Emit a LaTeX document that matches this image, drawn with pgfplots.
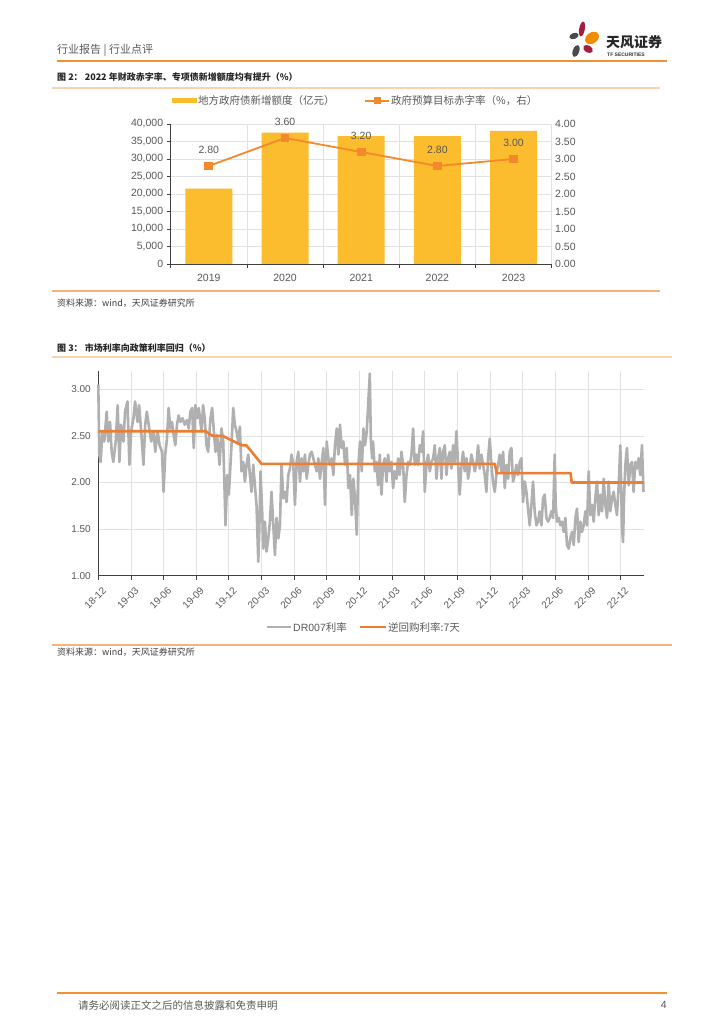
\documentclass[border=0pt]{standalone}
\usepackage{pgfplots}
\pgfplotsset{compat=1.18}
\usepackage{fontspec}
\setmainfont{Liberation Sans}
\newfontfamily\cjk{Noto Sans CJK SC}

\definecolor{tickgray}{HTML}{595959}
\definecolor{barY}{HTML}{FBBC2D}
\definecolor{lineO}{HTML}{F28A2B}
\definecolor{repoO}{HTML}{ED7D31}
\definecolor{drGray}{HTML}{B0B0B0}
\definecolor{gridG}{HTML}{E2E2E2}
\definecolor{axisD}{HTML}{404040}
\definecolor{hdrO}{HTML}{F0922E}
\definecolor{peach}{HTML}{F9D2AE}
\definecolor{sepO}{HTML}{F5B27A}
\definecolor{logoRed}{HTML}{A21E3C}
\definecolor{logoOr}{HTML}{F08C00}
\definecolor{logoGray}{HTML}{4A4A4A}

\newcommand\fs[1]{\fontsize{#1}{#1}\selectfont}

\begin{document}
\begin{tikzpicture}[x=1pt,y=1pt]
\useasboundingbox (0,0) rectangle (724,1024);
\fill[white] (0,0) rectangle (724,1024);
\coordinate (A1) at (170.7,760);
\coordinate (A3) at (98.3,448.3);

% header
\node[anchor=west, inner sep=0, text=tickgray] at (57,974) {\cjk\fs{11}行业报告 | 行业点评};
\draw[hdrO, line width=2pt] (57,963) -- (667,963);
% logo
\fill[logoRed, rotate around={-10:(582,995)}] (582,995) ellipse [x radius=2.8pt, y radius=7.5pt];
\fill[logoOr, rotate around={35:(592,986)}] (592,986) ellipse [x radius=7.5pt, y radius=5.5pt];
\fill[logoGray, rotate around={20:(574,988)}] (574,988) ellipse [x radius=4.8pt, y radius=3pt];
\fill[logoGray, rotate around={-20:(576,973)}] (576,973) ellipse [x radius=3.2pt, y radius=6.3pt];
\fill[logoRed, rotate around={-30:(588,975)}] (588,975) ellipse [x radius=5.2pt, y radius=3.6pt];
\node[anchor=west, inner sep=0, text=black!85] at (606,982) {\cjk\bfseries\fs{14}天风证券};
\node[anchor=west, inner sep=0, text=black!80] at (607,969) {\fs{5}\bfseries TF SECURITIES};

% figure 2 title
\node[anchor=west, inner sep=0, text=black!85] at (57,947) {\cjk\bfseries\fs{9}图 2： 2022 年财政赤字率、专项债新增额度均有提升（\%）};
\draw[peach, line width=1.5pt] (52,936) -- (660,936);

% legend 1
\fill[barY] (171.7,921) rectangle (196.7,925.5);
\node[anchor=west, inner sep=1pt, text=tickgray] at (197,923) {\cjk\fs{10.5}地方政府债新增额度（亿元）};
\draw[lineO, line width=1.8pt] (365,923) -- (389,923);
\fill[lineO] (373.5,919.5) rectangle (380.5,926.5);
\node[anchor=west, inner sep=1pt, text=tickgray] at (390,923) {\cjk\fs{10.5}政府预算目标赤字率（\%，右）};

\begin{axis}[
  at={(A1)}, anchor=south west,
  scale only axis, width=381pt, height=140pt,
  xmin=-0.5, xmax=4.5, ymin=0, ymax=40000,
  axis x line*=bottom, axis y line*=left,
  axis line style={axisD, line width=0.8pt},
  xtick={-0.5,0.5,1.5,2.5,3.5,4.5}, xticklabels={},
  extra x ticks={0,1,2,3,4},
  extra x tick labels={2019,2020,2021,2022,2023},
  extra x tick style={major tick length=0pt, grid=none, xticklabel style={yshift=-7pt}},
  xmajorgrids=true, ymajorgrids=true,
  major grid style={gridG, line width=0.8pt},
  ytick={0,5000,10000,15000,20000,25000,30000,35000,40000},
  scaled y ticks=false,
  yticklabel style={/pgf/number format/.cd, fixed, 1000 sep={,}},
  tick align=outside, major tick length=4pt,
  tick style={axisD, line width=0.8pt},
  tick label style={font=\fs{10.5}, text=tickgray, /pgf/number format/assume math mode=true},
  clip=false,
]
\addplot[ybar, bar width=47pt, fill=barY, draw=none] coordinates {(0,21500) (1,37500) (2,36500) (3,36500) (4,38000)};
\end{axis}

\begin{axis}[
  at={(A1)}, anchor=south west,
  scale only axis, width=381pt, height=140pt,
  xmin=-0.5, xmax=4.5, ymin=0, ymax=4,
  axis x line=none, axis y line*=right,
  y axis line style={draw=none},
  ytick={0,0.5,1,1.5,2,2.5,3,3.5,4},
  yticklabel style={/pgf/number format/.cd, fixed, fixed zerofill, precision=2},
  major tick length=0pt,
  tick label style={font=\fs{10.5}, text=tickgray, /pgf/number format/assume math mode=true},
  clip=false,
]
\addplot[lineO, line width=1.8pt, mark=square*, mark size=3.5pt, mark options={fill=lineO, draw=lineO},
  point meta=y,
  nodes near coords={\pgfmathprintnumber[fixed,fixed zerofill,precision=2,assume math mode=true]{\pgfplotspointmeta}},
  every node near coord/.append style={font=\fs{10.5}, text=tickgray, anchor=center, yshift=16pt}]
  coordinates {(0,2.8) (1,3.6) (2,3.2) (3,2.8) (4,3.0)};
\end{axis}

\draw[sepO, line width=1.2pt] (52,733) -- (660,733);
\node[anchor=west, inner sep=0, text=black!75] at (57,721) {\cjk\fs{9}资料来源：wind，天风证券研究所};

% figure 3 title
\node[anchor=west, inner sep=0, text=black!85] at (57,676) {\cjk\bfseries\fs{9}图 3： 市场利率向政策利率回归（\%）};
\draw[peach, line width=1.5pt] (52,667) -- (672,667);

\begin{axis}[
  at={(A3)}, anchor=south west,
  scale only axis, width=545.2pt, height=205pt,
  xmin=0, xmax=50.1, ymin=1, ymax=3.2,
  axis x line*=bottom, axis y line*=left,
  axis line style={axisD, line width=0.9pt},
  xtick={0,3,...,48},
  xticklabels={18-12,19-03,19-06,19-09,19-12,20-03,20-06,20-09,20-12,21-03,21-06,21-09,21-12,22-03,22-06,22-09,22-12},
  ytick={1,1.5,2,2.5,3},
  yticklabel style={/pgf/number format/.cd, fixed, fixed zerofill, precision=2},
  grid=major, major grid style={gridG, line width=0.8pt},
  tick align=outside, major tick length=4pt,
  x tick style={axisD, line width=0.8pt},
  y tick style={draw=none},
  tick label style={font=\fs{10}, text=tickgray, /pgf/number format/assume math mode=true},
  x tick label style={rotate=45, anchor=east, yshift=-11pt, xshift=1pt},
  clip=false,
]
\addplot[drGray, line width=2.6pt, line join=round] coordinates {
(0.00,3.05)(0.09,2.30)(0.22,2.22)(0.37,2.55)(0.55,2.44)(0.77,2.76)(0.92,2.44)(1.08,2.65)(1.23,2.33)(1.38,2.22)
(1.60,2.44)(1.78,2.83)(1.94,2.22)(2.09,2.62)(2.31,2.44)(2.46,2.76)(2.68,2.87)(2.86,2.19)(3.02,2.55)(3.23,2.69)
(3.38,2.87)(3.60,2.65)(3.75,2.83)(3.94,2.55)(4.15,2.19)(4.31,2.62)(4.46,2.76)(4.68,2.58)(4.86,2.44)(5.08,2.55)
(5.23,2.33)(5.45,2.55)(5.63,2.40)(5.85,2.33)(6.00,1.90)(6.15,2.30)(6.31,2.47)(6.46,2.80)(6.62,2.58)(6.77,2.65)
(6.92,2.51)(7.08,2.40)(7.23,2.62)(7.38,2.72)(7.54,2.65)(7.75,2.69)(7.94,2.62)(8.15,2.67)(8.31,2.58)(8.46,2.76)
(8.62,2.80)(8.77,2.37)(8.92,2.83)(9.08,2.69)(9.23,2.80)(9.48,2.55)(9.63,2.83)(9.78,2.69)(9.94,2.40)(10.09,2.33)
(10.31,2.69)(10.46,2.80)(10.62,2.55)(10.77,2.33)(10.92,2.51)(11.14,2.19)(11.32,2.58)(11.48,2.44)(11.69,1.54)(11.85,2.08)
(12.00,1.87)(12.24,2.40)(12.40,2.80)(12.55,2.62)(12.70,2.55)(12.86,2.44)(13.01,2.60)(13.16,2.12)(13.32,2.22)(13.47,2.01)
(13.62,2.19)(13.78,2.30)(13.93,2.08)(14.08,1.90)(14.24,2.19)(14.39,1.97)(14.54,1.76)(14.70,1.15)(14.79,1.47)(14.91,2.12)
(15.07,1.65)(15.16,1.29)(15.31,1.58)(15.46,1.26)(15.62,1.40)(15.77,1.58)(15.92,1.90)(16.08,1.54)(16.23,1.22)(16.38,1.62)
(16.54,1.40)(16.69,1.54)(16.84,2.19)(17.00,1.83)(17.15,1.90)(17.30,1.79)(17.46,2.08)(17.61,2.15)(17.76,2.30)(17.92,2.19)
(18.07,1.76)(18.22,2.22)(18.38,2.33)(18.53,2.01)(18.69,2.26)(18.84,2.12)(18.99,2.30)(19.15,2.04)(19.30,2.19)(19.45,2.30)
(19.61,2.33)(19.76,2.26)(19.91,2.19)(20.07,2.12)(20.22,2.26)(20.37,2.04)(20.53,2.22)(20.68,2.37)(20.83,1.76)(20.99,2.44)
(21.14,2.26)(21.29,2.19)(21.45,2.26)(21.60,2.08)(21.75,2.40)(21.91,2.58)(22.06,2.30)(22.21,2.62)(22.37,2.37)(22.52,2.44)
(22.67,2.19)(22.83,2.37)(22.98,1.94)(23.13,2.08)(23.29,1.65)(23.44,2.04)(23.59,1.83)(23.75,1.44)(23.90,2.19)(24.05,2.44)
(24.21,2.12)(24.36,2.58)(24.51,2.40)(24.67,2.55)(24.95,3.17)(25.04,2.47)(25.16,2.26)(25.25,2.44)(25.41,2.12)(25.56,2.22)
(25.71,1.97)(25.87,2.30)(26.02,1.87)(26.17,2.19)(26.33,2.26)(26.48,2.01)(26.63,2.30)(26.79,2.12)(26.94,2.22)(27.09,1.94)
(27.24,2.12)(27.40,2.04)(27.55,2.26)(27.70,2.08)(27.86,2.33)(28.01,2.19)(28.16,1.79)(28.32,2.08)(28.47,2.22)(28.62,2.19)
(28.78,2.30)(28.93,2.58)(29.08,2.19)(29.23,2.30)(29.39,2.19)(29.54,2.40)(29.69,2.33)(29.85,2.55)(30.00,1.90)(30.15,2.19)
(30.31,2.30)(30.46,2.12)(30.61,2.22)(30.77,2.26)(30.92,2.40)(31.07,2.04)(31.22,2.26)(31.38,2.37)(31.53,2.04)(31.68,2.33)
(31.84,2.40)(31.99,2.08)(32.14,2.26)(32.30,2.33)(32.45,2.15)(32.60,2.40)(32.75,2.22)(32.91,2.55)(33.06,2.19)(33.21,1.87)
(33.37,2.19)(33.52,2.33)(33.67,2.12)(33.83,2.26)(33.98,2.04)(34.13,2.15)(34.28,2.30)(34.44,2.22)(34.59,2.12)(34.74,2.19)
(34.90,2.40)(35.05,2.15)(35.20,2.30)(35.36,2.19)(35.51,2.08)(35.66,1.90)(35.82,2.26)(35.97,2.47)(36.12,2.19)(36.27,2.01)
(36.43,1.90)(36.58,2.08)(36.89,2.30)(37.04,2.12)(37.20,2.33)(37.35,1.94)(37.50,2.19)(37.66,2.04)(37.81,2.33)(37.96,2.37)
(38.11,2.01)(38.27,2.08)(38.42,2.19)(38.57,2.08)(38.73,2.22)(38.88,2.26)(39.03,1.79)(39.19,2.01)(39.34,1.90)(39.49,1.72)
(39.64,1.54)(39.80,1.76)(39.95,2.01)(40.10,1.69)(40.26,1.54)(40.41,1.58)(40.56,1.69)(40.72,1.54)(40.87,1.83)(41.02,1.87)
(41.18,1.62)(41.33,1.58)(41.48,1.62)(41.63,1.69)(41.79,1.62)(41.94,2.30)(42.03,1.76)(42.15,1.58)(42.31,1.62)(42.46,1.54)
(42.61,1.58)(42.77,1.47)(42.92,1.62)(43.07,1.33)(43.23,1.29)(43.38,1.40)(43.53,1.47)(43.69,1.33)(43.84,1.62)(43.99,1.72)
(44.14,1.36)(44.30,1.58)(44.45,1.47)(44.60,1.54)(44.76,1.69)(44.91,1.54)(45.06,2.12)(45.22,1.65)(45.37,1.76)(45.52,1.58)
(45.67,1.83)(45.83,2.01)(45.98,1.65)(46.13,1.87)(46.29,1.69)(46.44,2.04)(46.59,1.76)(46.75,1.62)(46.90,2.01)(47.05,1.69)
(47.21,1.83)(47.36,1.90)(47.51,1.76)(47.66,1.65)(47.82,1.97)(47.97,2.40)(48.12,1.54)(48.22,1.36)(48.31,1.83)(48.43,2.19)
(48.58,2.37)(48.74,1.97)(48.89,2.19)(49.04,2.22)(49.19,1.90)(49.35,2.22)(49.50,2.15)(49.65,2.26)(49.80,2.08)(49.96,2.40)
(50.10,1.90)
};
\addplot[repoO, line width=2.6pt, line join=round] coordinates {
(0,2.55)(9.85,2.55)(10.5,2.50)(11.45,2.50)(13.15,2.40)(13.6,2.40)(15.0,2.20)(36.45,2.20)(36.6,2.10)(43.4,2.10)(43.5,2.00)(50.1,2.00)
};
\end{axis}

% legend 3
\draw[drGray, line width=2.6pt] (267,397) -- (291,397);
\node[anchor=west, inner sep=1pt, text=tickgray] at (292,397) {\fs{10.5}DR007\cjk 利率};
\draw[repoO, line width=2.6pt] (360,397) -- (386,397);
\node[anchor=west, inner sep=1pt, text=tickgray] at (387,397) {\cjk\fs{10.5}逆回购利率:7天};

\draw[sepO, line width=1.2pt] (52,379) -- (672,379);
\node[anchor=west, inner sep=0, text=black!75] at (57,372) {\cjk\fs{9}资料来源：wind，天风证券研究所};

% footer
\draw[hdrO, line width=2pt] (57,31) -- (667,31);
\node[anchor=west, inner sep=0, text=tickgray] at (78,19) {\cjk\fs{10.5}请务必阅读正文之后的信息披露和免责申明};
\node[anchor=east, inner sep=0, text=tickgray] at (667,19) {\fs{10.5}4};
\end{tikzpicture}
\end{document}
